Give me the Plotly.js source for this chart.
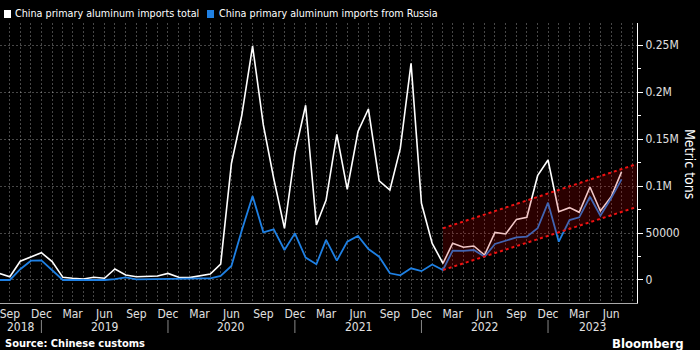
<!DOCTYPE html>
<html>
<head>
<meta charset="utf-8">
<script src="https://cdn.plot.ly/plotly-3.0.1.min.js"></script>
<style>
  html, body { margin: 0; padding: 0; background: #000; }
  #chart { width: 700px; height: 350px; }
</style>
</head>
<body>
<div id="chart"></div>
<script>
// ---- Data (monthly, metric tons) ----
const months = [
  '2018-08-01','2018-09-01','2018-10-01','2018-11-01','2018-12-01',
  '2019-01-01','2019-02-01','2019-03-01','2019-04-01','2019-05-01','2019-06-01',
  '2019-07-01','2019-08-01','2019-09-01','2019-10-01','2019-11-01','2019-12-01',
  '2020-01-01','2020-02-01','2020-03-01','2020-04-01','2020-05-01','2020-06-01',
  '2020-07-01','2020-08-01','2020-09-01','2020-10-01','2020-11-01','2020-12-01',
  '2021-01-01','2021-02-01','2021-03-01','2021-04-01','2021-05-01','2021-06-01',
  '2021-07-01','2021-08-01','2021-09-01','2021-10-01','2021-11-01','2021-12-01',
  '2022-01-01','2022-02-01','2022-03-01','2022-04-01','2022-05-01','2022-06-01',
  '2022-07-01','2022-08-01','2022-09-01','2022-10-01','2022-11-01','2022-12-01',
  '2023-01-01','2023-02-01','2023-03-01','2023-04-01','2023-05-01','2023-06-01',
  '2023-07-01'
];

const importsTotal = [
  7000, 3500, 20000, 24800, 29000,
  19500, 2800, 1800, 1000, 2900, 1800,
  11700, 5300, 3500, 3500, 4300, 7000,
  2900, 2500, 4300, 6300, 17000, 124000,
  175500, 249000, 165000, 108000, 55000, 135000,
  186000, 58500, 85000, 155000, 96500, 158000,
  182000, 105600, 95700, 140000, 230500, 81600,
  39000, 17700, 39000, 34800, 36200, 26600,
  50700, 49000, 64500, 66700, 111000, 127700,
  72700, 77000, 72000, 99000, 73400, 88600,
  115000
];

const importsRussia = [
  0, 0, 11500, 20500, 20800,
  10600, 0, 0, 0, 0, 0,
  1000, 2800, 700, 700, 700, 1000,
  700, 1500, 1800, 1800, 4300, 14900,
  53000, 89400, 50700, 53900, 31900, 49600,
  23800, 16700, 42600, 20600, 40800, 46800,
  33000, 24800, 7100, 5000, 12400, 9400,
  16400, 10600, 31200, 30900, 31900, 24800,
  38300, 41800, 45400, 46100, 55000, 82300,
  40800, 63800, 66700, 88600, 68400, 86900,
  107000
];

// Trend channel (start / end)
const channelX = ['2022-02-01', '2023-08-14'];
const channelLower = [10600, 77700];
const channelUpper = [55000, 123400];

// Axis labels
const yTickVals = [0, 50000, 100000, 150000, 200000, 250000];
const yTickText = ['0', '50000', '0.1M', '0.15M', '0.2M', '0.25M'];
const years = [2018, 2019, 2020, 2021, 2022, 2023];
const xRange = ['2018-08-03 15:00', '2023-08-14 14:00'];

const seriesNames = ['China primary aluminum imports total', 'China primary aluminum imports from Russia'];
const seriesColors = ['#ffffff', '#1f80e3'];

// ---- Chart ----
const FONT = "'DejaVu Sans Condensed', 'Liberation Sans', sans-serif";
const gridColor = 'rgba(255,255,255,0.28)';
const PW = 637, PH = 280, PB = 303; // plot width, height, bottom (px) for paper-coordinate helpers
const px = v => v / PW;
const py = v => (PB - v) / PH;

const traces = [
  { x: months, y: importsTotal, type: 'scatter', mode: 'lines', name: seriesNames[0],
    line: { color: seriesColors[0], width: 1.6 } },
  { x: months, y: importsRussia, type: 'scatter', mode: 'lines', name: seriesNames[1],
    line: { color: seriesColors[1], width: 1.8 } },
  { x: [channelX[0], channelX[1], channelX[1], channelX[0], channelX[0]],
    y: [channelLower[0], channelLower[1], channelUpper[1], channelUpper[0], channelLower[0]],
    type: 'scatter', mode: 'none', fill: 'toself', fillcolor: 'rgba(190,0,0,0.22)',
    showlegend: false, hoverinfo: 'skip' },
  { x: channelX, y: channelUpper, type: 'scatter', mode: 'lines', showlegend: false,
    line: { color: '#ee1111', width: 2, dash: 'dot' } },
  { x: channelX, y: channelLower, type: 'scatter', mode: 'lines', showlegend: false,
    line: { color: '#ee1111', width: 2, dash: 'dot' } }
];

// year labels and separators computed from the year list
const t = d => new Date(d + 'T00:00:00Z').getTime();
const startMs = new Date(xRange[0].replace(' ', 'T') + ':00Z').getTime();
const endMs = new Date(xRange[1].replace(' ', 'T') + ':00Z').getTime();
const annotations = [];
const shapes = [];
years.forEach((yr, i) => {
  const left = i === 0 ? startMs : t((yr - 1) + '-12-01');
  const right = i === years.length - 1 ? endMs : t(yr + '-12-01');
  const mid = new Date((left + right) / 2).toISOString().slice(0, 19).replace('T', ' ');
  annotations.push({ x: mid, xref: 'x', y: py(327), yref: 'paper', text: String(yr),
    showarrow: false, xanchor: 'center', yanchor: 'middle',
    font: { family: FONT, size: 12, color: '#e0e0e0' } });
  if (i < years.length - 1) {
    shapes.push({ type: 'line', xref: 'x', yref: 'paper', x0: yr + '-12-01', x1: yr + '-12-01',
      y0: py(320), y1: py(333), line: { color: '#888', width: 1 } });
  }
});

// legend (manual, to match square swatches)
const legendX = [[4, 13], [207, 217]];
seriesNames.forEach((nm, i) => {
  shapes.push({ type: 'rect', xref: 'paper', yref: 'paper',
    x0: px(legendX[i][0]), x1: px(legendX[i][0] + 7), y0: py(18), y1: py(10),
    fillcolor: seriesColors[i], line: { width: 0 } });
  annotations.push({ x: px(legendX[i][1]), xref: 'paper', y: py(14), yref: 'paper',
    xanchor: 'left', yanchor: 'middle', showarrow: false, text: nm,
    font: { family: FONT, size: 10.7, color: '#ffffff' } });
});

// y axis title (reads top-to-bottom)
annotations.push({ x: px(690), xref: 'paper', y: py(164), yref: 'paper', textangle: 90, showarrow: false,
  text: 'Metric tons', xanchor: 'center', yanchor: 'middle',
  font: { family: FONT, size: 14, color: '#ffffff' } });

// source & brand
annotations.push({ x: px(3), xref: 'paper', y: py(343), yref: 'paper', xanchor: 'left', yanchor: 'middle',
  showarrow: false, text: '<b>Source: Chinese customs</b>',
  font: { family: FONT, size: 11, color: '#ffffff' } });
annotations.push({ x: px(686), xref: 'paper', y: py(343), yref: 'paper', xanchor: 'right', yanchor: 'middle',
  showarrow: false, text: '<b>Bloomberg</b>',
  font: { family: FONT, size: 13, color: '#ffffff' } });

const layout = {
  width: 700, height: 350,
  margin: { l: 0, r: 63, t: 23, b: 47 },
  paper_bgcolor: '#000', plot_bgcolor: '#000',
  showlegend: false,
  font: { family: FONT, size: 12, color: '#e0e0e0' },
  xaxis: {
    type: 'date', range: xRange,
    tickmode: 'linear', tick0: '2018-09-01', dtick: 'M3', tickformat: '%b',
    ticklabeloverflow: 'allow',
    ticks: '', showgrid: true, gridcolor: gridColor, griddash: '2px,2px', gridwidth: 1,
    minor: { tickmode: 'linear', tick0: '2018-08-01', dtick: 'M1', showgrid: true,
             gridcolor: gridColor, griddash: '2px,2px', gridwidth: 1, ticks: '' },
    showline: true, linecolor: '#aaaaaa', linewidth: 1, zeroline: false,
    tickfont: { family: FONT, size: 12, color: '#e0e0e0' }
  },
  yaxis: {
    side: 'right', range: [-24500, 273500],
    tickmode: 'array', tickvals: yTickVals, ticktext: yTickText,
    ticks: 'outside', ticklen: 5, tickcolor: '#ffffff', tickwidth: 1,
    minor: { tickmode: 'linear', tick0: 0, dtick: 25000, ticks: 'outside', ticklen: 3,
             tickcolor: '#ffffff', showgrid: false },
    showgrid: true, gridcolor: gridColor, griddash: '2px,2px', gridwidth: 1,
    showline: true, linecolor: '#ffffff', linewidth: 1, zeroline: false,
    tickfont: { family: FONT, size: 12, color: '#e0e0e0' }
  },
  annotations: annotations,
  shapes: shapes
};

Plotly.newPlot('chart', traces, layout, { staticPlot: true, displayModeBar: false });
</script>
</body>
</html>
